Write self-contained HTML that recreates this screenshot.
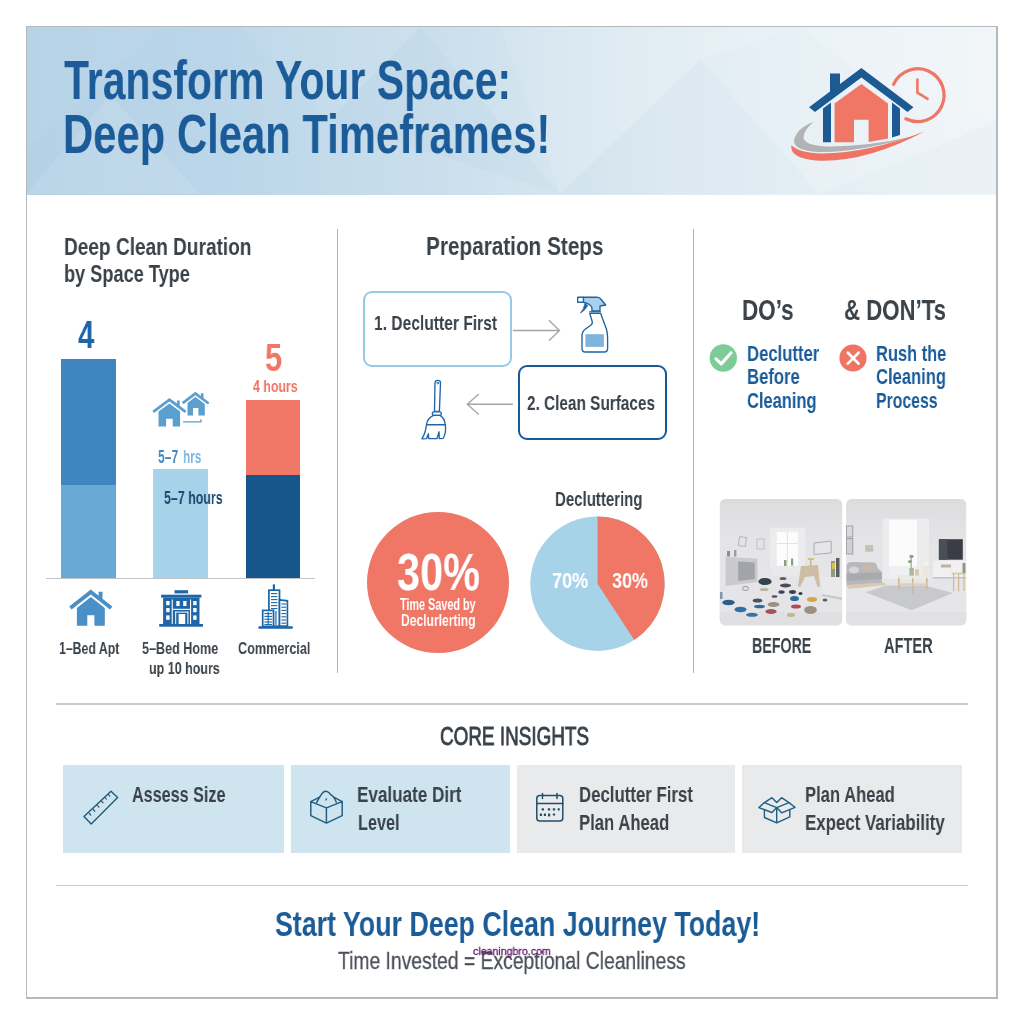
<!DOCTYPE html><html><head><meta charset="utf-8"><title>Deep Clean Timeframes</title><style>
html,body{margin:0;padding:0;background:#fff;}
body{width:1024px;height:1024px;position:relative;overflow:hidden;font-family:"Liberation Sans",sans-serif;}
.t{position:absolute;white-space:nowrap;line-height:1;transform-origin:0 0;letter-spacing:0;will-change:transform;}
.a{position:absolute;}
svg{position:absolute;left:0;top:0;overflow:visible;}
</style></head><body>
<div class="a" style="left:26px;top:26px;width:972px;height:973px;border:solid #b6b9bc;border-width:1px 2px 2px 1px;box-sizing:border-box;background:#fff"></div>
<div class="a" style="left:27px;top:27px;width:969px;height:167.5px;background:linear-gradient(90deg,#b4d1e6 0%,#bbd6e9 20%,#cce0ed 45%,#deebf2 64%,#e9f1f6 82%,#f0f5f8 100%)"></div>
<svg width="1024" height="1024" viewBox="0 0 1024 1024"><g>
<polygon points="27,27 160,27 27,150" fill="#fff" opacity="0.05"/>
<polygon points="27,194 200,194 110,95" fill="#fff" opacity="0.10"/>
<polygon points="240,27 420,27 330,120" fill="#fff" opacity="0.06"/>
<polygon points="420,27 560,194 330,120" fill="#6aa3cc" opacity="0.04"/>
<polygon points="560,194 700,60 640,27 500,27" fill="#fff" opacity="0.10"/>
<polygon points="700,60 820,194 560,194" fill="#6aa3cc" opacity="0.035"/>
<polygon points="640,27 800,27 700,60" fill="#fff" opacity="0.12"/>
<polygon points="800,27 996,27 996,120 880,90" fill="#fff" opacity="0.14"/>
<polygon points="820,194 996,194 996,120 930,150" fill="#6aa3cc" opacity="0.03"/>
</g></svg>
<span class="t" style="left:64px;top:53px;font-size:55.5px;font-weight:700;color:#1b5c98;transform:scaleX(0.7385);">Transform Your Space:</span>
<span class="t" style="left:63px;top:107px;font-size:55.5px;font-weight:700;color:#1b5c98;transform:scaleX(0.7534);">Deep Clean Timeframes!</span>
<div class="a" style="left:336.9px;top:228.8px;width:1.3px;height:443.9px;background:#b0b3b8"></div>
<div class="a" style="left:692.8px;top:228.8px;width:1.3px;height:443.9px;background:#b0b3b8"></div>
<div class="a" style="left:56px;top:703.3px;width:912px;height:1.6px;background:#c8cacd"></div>
<div class="a" style="left:56px;top:884.8px;width:912px;height:1.6px;background:#c8cacd"></div>
<svg width="1024" height="1024" viewBox="0 0 1024 1024">

<!-- pie -->
<circle cx="597.5" cy="583.7" r="67.2" fill="#a7d3e9"/>
<path d="M597.5 583.7 L597.5 516.5 A67.2 67.2 0 0 1 634.3 639.9 Z" fill="#f07666"/>
<!-- photos -->
<defs>
<clipPath id="cb"><rect x="719.8" y="499" width="122.4" height="126.3" rx="5.5"/></clipPath>
<clipPath id="ca"><rect x="846.1" y="499" width="120.1" height="126.3" rx="5.5"/></clipPath>
<linearGradient id="gw" x1="0" y1="0" x2="0" y2="1"><stop offset="0" stop-color="#dcdcde"/><stop offset="0.3" stop-color="#e4e4e6"/><stop offset="0.68" stop-color="#e6e6e8"/><stop offset="1" stop-color="#dadadc"/></linearGradient>
</defs>
<g clip-path="url(#cb)">
<rect x="719" y="498" width="125" height="129" fill="url(#gw)"/>
<polygon points="719,589 762,578 800,578 842,590 842,626 719,626" fill="#e5e5e8"/>
<polygon points="719,612 842,612 842,626 719,626" fill="#dededf" opacity="0.7"/>
<rect x="770.1" y="527.9" width="35.2" height="40.5" fill="#ececee"/>
<rect x="776.8" y="531.8" width="21.2" height="33.9" fill="#fcfcfd"/>
<line x1="787.4" y1="531.8" x2="787.4" y2="565.7" stroke="#e3e3e6" stroke-width="1"/>
<line x1="776.8" y1="543.5" x2="798" y2="543.5" stroke="#e3e3e6" stroke-width="1"/>
<rect x="772" y="566" width="30" height="10" fill="#e9e9eb"/>
<rect x="784" y="560" width="2.5" height="6" fill="#8aa07e"/><rect x="791" y="558.5" width="2.2" height="7" fill="#8aa07e"/>
<polygon points="725.6,557 757.5,558.5 757.5,582 725.6,586" fill="#c9cace"/>
<polygon points="738.2,561.5 754.8,562.5 754.8,579 738.2,581" fill="#a3a4aa"/>
<rect x="727" y="551" width="3" height="5.5" fill="#8c8e92"/><rect x="734" y="550" width="2.4" height="6.5" fill="#9a9ca0"/>
<rect x="739" y="537" width="7" height="9" fill="none" stroke="#a9abaf" stroke-width="0.8" transform="rotate(8 742 541)"/>
<rect x="757" y="539" width="7" height="10" fill="none" stroke="#b4b6ba" stroke-width="0.8"/>
<polygon points="814,543 831.2,541.1 831.2,553 814,554.4" fill="#e6e6e8" stroke="#a3a5a9" stroke-width="0.9"/>
<path d="M801 566 L818 565 L820 587 L817.5 587 L814 576 L805 577 L800 587 L798 586 Z" fill="#cdbda3"/>
<rect x="808" y="558" width="6" height="2" fill="#d6c27a"/><rect x="810" y="559" width="1.4" height="7" fill="#c9b78a"/>
<polygon points="821.9,576.3 842,579 842,597.6 821.9,594" fill="#e9e9eb"/>
<polygon points="821.9,594 842,597.6 842,600 821.9,596" fill="#c9c9cc"/>
<rect x="831" y="561" width="4" height="16" fill="#8f9a86"/><rect x="836" y="558" width="3.5" height="19" fill="#5a5f5a"/><rect x="832" y="563" width="3" height="6" fill="#d9c04e"/>
<ellipse cx="765" cy="581.5" rx="6.6" ry="3.6" fill="#36424c"/>
<ellipse cx="783" cy="578.5" rx="3.4" ry="1.5" fill="#6a5a5c"/>
<ellipse cx="785.5" cy="585.5" rx="5.6" ry="1.9" fill="#4a4a55"/>
<ellipse cx="745.5" cy="588.5" rx="3" ry="2" fill="none" stroke="#8d9499" stroke-width="1"/>
<ellipse cx="764" cy="589.5" rx="4.5" ry="1.6" fill="#b9b4a6"/>
<ellipse cx="781.5" cy="592" rx="3.2" ry="1.8" fill="#3b4560"/>
<ellipse cx="792.5" cy="592" rx="3.5" ry="1.9" fill="#3a4356"/>
<ellipse cx="800.5" cy="593.5" rx="2" ry="1.5" fill="#2f3f4f"/>
<ellipse cx="794.5" cy="598.5" rx="4.4" ry="2.6" fill="#2e6c9c"/>
<ellipse cx="774.5" cy="596.5" rx="3" ry="1.2" fill="#4a5260"/>
<ellipse cx="757.5" cy="600.5" rx="4.8" ry="2" fill="#4b5560"/>
<ellipse cx="812" cy="599.5" rx="5" ry="2.4" fill="#d0a74e"/>
<ellipse cx="825" cy="600" rx="2.4" ry="1.5" fill="#59605c"/>
<ellipse cx="773.5" cy="604.5" rx="5.8" ry="2.6" fill="#9c8f86"/>
<ellipse cx="796" cy="606.5" rx="5" ry="2" fill="#b64a52"/>
<ellipse cx="759.5" cy="606.5" rx="5.6" ry="1.8" fill="#2f6a98"/>
<ellipse cx="728.5" cy="602.5" rx="6.2" ry="2.8" fill="#2d5f88"/>
<ellipse cx="740.5" cy="609.5" rx="6" ry="2.8" fill="#2f6ea6"/>
<ellipse cx="771" cy="611.5" rx="5.6" ry="2.6" fill="#a0545a"/>
<ellipse cx="752" cy="614.8" rx="6" ry="2" fill="#3672a8"/>
<ellipse cx="810.5" cy="610" rx="6.4" ry="4" fill="#9b8f84"/>
<ellipse cx="791" cy="615" rx="4.2" ry="1.9" fill="#c2b494"/>
<rect x="720" y="592" width="2.5" height="7" fill="#7f97b0"/>
</g>
<g clip-path="url(#ca)">
<rect x="845" y="498" width="123" height="129" fill="url(#gw)"/>
<polygon points="845,590 884,579 932,578 967,584 967,626 845,626" fill="#e6e6e9"/>
<polygon points="845,612 967,612 967,626 845,626" fill="#dededf" opacity="0.7"/>
<rect x="882.5" y="518.6" width="46.5" height="60.4" fill="#ececee"/>
<rect x="889.1" y="519.9" width="27.9" height="46.5" fill="#fbfbfc"/>
<rect x="889.1" y="566.4" width="27.9" height="12" fill="#f0f0f2"/>
<rect x="846.4" y="526" width="6.4" height="11" fill="#dadadc" stroke="#8f9196" stroke-width="0.8"/>
<rect x="846.4" y="538.5" width="6.4" height="15.5" fill="#d0d0d3" stroke="#8f9196" stroke-width="0.8"/>
<rect x="865.2" y="545.1" width="8" height="6.6" fill="#c5c0b2"/>
<path d="M846.6 566 Q847 562 852 562 L874 562.5 Q877 563 877.5 568 L881.8 572 L881.8 583 L846.6 585.5 Z" fill="#b7b8bc"/>
<path d="M846.6 573.5 L881.8 572.5 L881.8 579 L846.6 581 Z" fill="#a9aaae"/>
<ellipse cx="854" cy="570" rx="5" ry="3.4" fill="#d6d6d9"/><ellipse cx="868" cy="567.5" rx="5" ry="3.6" fill="#c9b9a6"/>
<path d="M847 585 L884 582.5 L886 585 L848 589 Z" fill="#d8c9b1"/>
<polygon points="865.2,592.3 886.5,585.6 925,585.6 952.9,592.9 911.7,610.2" fill="#c8c9cc"/>
<rect x="938.9" y="539.2" width="23.9" height="20.5" fill="#3a3d45"/>
<rect x="938.9" y="539.2" width="8.5" height="20.5" fill="#4a4e57"/>
<rect x="933" y="560.8" width="33.5" height="16.6" fill="#f0f0f2"/>
<rect x="933" y="577" width="33.5" height="1.6" fill="#c6c6c9"/>
<rect x="941" y="564.5" width="10" height="3" fill="#b8b3a8"/>
<rect x="897.5" y="575.2" width="30.4" height="2.8" fill="#efe9dd"/>
<rect x="898" y="578" width="1.6" height="11.5" fill="#cdb995"/><rect x="926" y="578" width="1.6" height="11.5" fill="#cdb995"/>
<rect x="912" y="578" width="1.5" height="15.5" fill="#cdb995"/>
<rect x="898.5" y="583.4" width="28.5" height="1.5" fill="#dccdb2"/>
<rect x="909.4" y="568" width="4.4" height="7.6" fill="#aeb59d"/><rect x="915" y="569.5" width="4" height="6" fill="#d8c8a4"/>
<rect x="910.6" y="555" width="1" height="13" fill="#7ea071"/><ellipse cx="911.4" cy="556.5" rx="2.2" ry="1.7" fill="#86a878"/><ellipse cx="910" cy="561.5" rx="2" ry="1.6" fill="#86a878"/>
<ellipse cx="926" cy="564" rx="2.8" ry="2.4" fill="#f3f1ea"/><rect x="923.5" y="566" width="5" height="9" fill="#e9e6dc"/>
<rect x="951.6" y="572.6" width="14.5" height="1.8" fill="#d8c8ac"/>
<rect x="953" y="574" width="1.2" height="17" fill="#cdb995"/><rect x="958" y="574" width="1.2" height="17.5" fill="#cdb995"/><rect x="963.4" y="574" width="1.2" height="17" fill="#cdb995"/>
<rect x="962.5" y="563" width="3" height="10" fill="#8f9a7e"/>
</g>

</svg>
<span class="t" style="left:64px;top:235px;font-size:24.3px;font-weight:700;color:#3a424a;transform:scaleX(0.7845);">Deep Clean Duration</span>
<span class="t" style="left:64px;top:262px;font-size:24.3px;font-weight:700;color:#3a424a;transform:scaleX(0.7476);">by Space Type</span>
<div class="a" style="left:61px;top:359px;width:54.6px;height:126px;background:#3f86c1"></div>
<div class="a" style="left:61px;top:484.6px;width:54.6px;height:94px;background:#69a9d6"></div>
<div class="a" style="left:153.3px;top:468.8px;width:55.2px;height:110px;background:#a6d3ea"></div>
<div class="a" style="left:246px;top:399.6px;width:54.1px;height:76px;background:#f17766"></div>
<div class="a" style="left:246px;top:474.6px;width:54.1px;height:104px;background:#17568b"></div>
<div class="a" style="left:46px;top:577.8px;width:269px;height:1.5px;background:#c2c4c7"></div>
<span class="t" style="left:78px;top:316px;font-size:38.6px;font-weight:700;color:#1d64a8;transform:scaleX(0.7534);">4</span>
<span class="t" style="left:265px;top:339px;font-size:38.8px;font-weight:700;color:#f07666;transform:scaleX(0.7941);">5</span>
<span class="t" style="left:253px;top:378px;font-size:17.4px;font-weight:700;color:#f07666;transform:scaleX(0.7104);">4 hours</span>
<span class="t" style="left:158px;top:449px;font-size:17.5px;font-weight:700;color:#4088bf;transform:scaleX(0.6912);">5–7</span>
<span class="t" style="left:183px;top:449px;font-size:17.5px;font-weight:700;color:#78b9de;transform:scaleX(0.6717);">hrs</span>
<span class="t" style="left:164px;top:490px;font-size:17.7px;font-weight:700;color:#1d4a73;transform:scaleX(0.7021);">5–7 hours</span>
<span class="t" style="left:59px;top:640px;font-size:16.5px;font-weight:700;color:#3a424a;transform:scaleX(0.7443);">1–Bed Apt</span>
<span class="t" style="left:142px;top:640px;font-size:16.5px;font-weight:700;color:#3a424a;transform:scaleX(0.7628);">5–Bed Home</span>
<span class="t" style="left:149px;top:660px;font-size:16.5px;font-weight:700;color:#3a424a;transform:scaleX(0.7569);">up 10 hours</span>
<span class="t" style="left:238px;top:640px;font-size:16.5px;font-weight:700;color:#3a424a;transform:scaleX(0.7668);">Commercial</span>
<span class="t" style="left:426px;top:233px;font-size:26.5px;font-weight:700;color:#3a424a;transform:scaleX(0.7827);">Preparation Steps</span>
<div class="a" style="left:363px;top:290.5px;width:149.4px;height:76px;border:2.4px solid #93cae5;border-radius:9px;box-sizing:border-box;background:#fff"></div>
<div class="a" style="left:518px;top:365.4px;width:149.3px;height:75px;border:2.5px solid #18599a;border-radius:9px;box-sizing:border-box;background:#fff"></div>
<span class="t" style="left:374px;top:312px;font-size:21.0px;font-weight:700;color:#3a424a;transform:scaleX(0.7426);">1. Declutter First</span>
<span class="t" style="left:527px;top:392px;font-size:21.0px;font-weight:700;color:#3a424a;transform:scaleX(0.7311);">2. Clean Surfaces</span>
<div class="a" style="left:367px;top:512.1px;width:142.3px;height:141.4px;border-radius:50%;background:#f07666"></div>
<span class="t" style="left:397px;top:546px;font-size:52.5px;font-weight:700;color:#fff;transform:scaleX(0.7894);">30%</span>
<span class="t" style="left:400px;top:596px;font-size:16.4px;font-weight:700;color:#fff;transform:scaleX(0.6607);">Time Saved by</span>
<span class="t" style="left:401px;top:612px;font-size:16.4px;font-weight:700;color:#fff;transform:scaleX(0.7378);">Declurlerting</span>
<span class="t" style="left:555px;top:490px;font-size:19.6px;font-weight:700;color:#3a424a;transform:scaleX(0.7656);">Decluttering</span>
<span class="t" style="left:552px;top:570px;font-size:22.3px;font-weight:700;color:#fff;transform:scaleX(0.8095);">70%</span>
<span class="t" style="left:612px;top:570px;font-size:22.3px;font-weight:700;color:#fff;transform:scaleX(0.8050);">30%</span>
<span class="t" style="left:742px;top:295px;font-size:30.1px;font-weight:700;color:#3a424a;transform:scaleX(0.7447);">DO’s</span>
<span class="t" style="left:844px;top:295px;font-size:30.1px;font-weight:700;color:#3a424a;transform:scaleX(0.7379);">&amp; DON’Ts</span>
<span class="t" style="left:747px;top:344px;font-size:21.3px;font-weight:700;color:#1b5c98;transform:scaleX(0.7829);">Declutter</span>
<span class="t" style="left:747px;top:367px;font-size:21.3px;font-weight:700;color:#1b5c98;transform:scaleX(0.7831);">Before</span>
<span class="t" style="left:747px;top:391px;font-size:21.3px;font-weight:700;color:#1b5c98;transform:scaleX(0.7722);">Cleaning</span>
<span class="t" style="left:876px;top:344px;font-size:21.3px;font-weight:700;color:#1b5c98;transform:scaleX(0.7716);">Rush the</span>
<span class="t" style="left:876px;top:367px;font-size:21.3px;font-weight:700;color:#1b5c98;transform:scaleX(0.7778);">Cleaning</span>
<span class="t" style="left:876px;top:391px;font-size:21.3px;font-weight:700;color:#1b5c98;transform:scaleX(0.7433);">Process</span>
<span class="t" style="left:752px;top:636px;font-size:21.4px;font-weight:700;color:#3a424a;transform:scaleX(0.6655);">BEFORE</span>
<span class="t" style="left:884px;top:636px;font-size:21.4px;font-weight:700;color:#3a424a;transform:scaleX(0.6833);">AFTER</span>
<span class="t" style="left:440px;top:723px;font-size:26.7px;font-weight:400;color:#3a424a;transform:scaleX(0.7074);-webkit-text-stroke:0.9px #3a424a;">CORE INSIGHTS</span>
<div class="a" style="left:63.4px;top:764.7px;width:220.7px;height:87.9px;background:#cee4ef"></div>
<div class="a" style="left:291px;top:764.7px;width:218.7px;height:87.9px;background:#cee4ef"></div>
<div class="a" style="left:517px;top:764.7px;width:218.4px;height:87.9px;background:#e9eaeb"></div>
<div class="a" style="left:742.2px;top:764.7px;width:220.2px;height:87.9px;background:#e9eaeb"></div>
<span class="t" style="left:132px;top:784px;font-size:22.5px;font-weight:700;color:#3a424a;transform:scaleX(0.7188);">Assess Size</span>
<span class="t" style="left:357px;top:784px;font-size:22.5px;font-weight:700;color:#3a424a;transform:scaleX(0.7599);">Evaluate Dirt</span>
<span class="t" style="left:358px;top:812px;font-size:22.5px;font-weight:700;color:#3a424a;transform:scaleX(0.7230);">Level</span>
<span class="t" style="left:579px;top:784px;font-size:22.5px;font-weight:700;color:#3a424a;transform:scaleX(0.7468);">Declutter First</span>
<span class="t" style="left:579px;top:812px;font-size:22.5px;font-weight:700;color:#3a424a;transform:scaleX(0.7410);">Plan Ahead</span>
<span class="t" style="left:805px;top:784px;font-size:22.5px;font-weight:700;color:#3a424a;transform:scaleX(0.7376);">Plan Ahead</span>
<span class="t" style="left:805px;top:812px;font-size:22.5px;font-weight:700;color:#3a424a;transform:scaleX(0.7501);">Expect Variability</span>
<span class="t" style="left:275px;top:907px;font-size:35.4px;font-weight:700;color:#1b5c98;transform:scaleX(0.7568);">Start Your Deep Clean Journey Today!</span>
<span class="t" style="left:338px;top:949px;font-size:24.2px;font-weight:400;color:#4b5159;transform:scaleX(0.7984);-webkit-text-stroke:0.3px #4b5159;">Time Invested = Exceptional Cleanliness</span>
<span class="t" style="left:473px;top:946px;font-size:11.0px;font-weight:400;color:#5e1a68;transform:scaleX(0.9644);-webkit-text-stroke:0.3px #5e1a68;">cleaningbro.com</span>
<svg width="1024" height="1024" viewBox="0 0 1024 1024">

<!-- logo -->
<g>
<path d="M813.5 122 Q797 128 794 140 Q793 149 812 151.5 Q848 155 915 136 Q866 147 826 146.5 Q803 145 803.5 137 Q804 130 813.5 122 Z" fill="#b1b3b6"/>
<path d="M791.5 145 Q789 158 816 160.5 Q865 163 924.5 131.5 Q868 153 822 153.5 Q799 153 791.5 145 Z" fill="#ef7464"/>
<path d="M893.6 84.3 A26.4 26.4 0 1 1 905.8 118.8" fill="none" stroke="#ef7565" stroke-width="3.2" stroke-linecap="round"/>
<path d="M917.4 79.5 L917.4 92.7 L927.6 98.9" fill="none" stroke="#ef7565" stroke-width="2.6" stroke-linecap="round" stroke-linejoin="round"/>
<path d="M861.4 68 L840 84 L840 73.6 L830 73.6 L830 91.5 L809 107.2 L815 112 L861.4 77.5 L907.5 112 L913.5 107.2 Z" fill="#1c5a94"/>
<path d="M823 108.5 L831 102.5 L831 142.3 L823 142.3 Z" fill="#1c5a94"/>
<path d="M892 102.5 L900 108.5 L900 135 L892 137.5 Z" fill="#1c5a94"/>
<path d="M861.4 84 L888 103.5 L888 138.5 L868.6 142 L868.6 119.7 L854 119.7 L854 142.3 L834.6 142.3 L834.6 103.5 Z" fill="#f07666"/>
</g>

<!-- bar icons: double house -->
<g fill="#5a9fcf">
<path d="M169.4 397.9 L176.9 403.6 L176.9 400.4 L179.7 400.4 L179.7 405.7 L186.4 410.8 L184.7 413.1 L169.4 401.6 L154.1 413.1 L152.4 410.8 Z"/>
<path d="M169.4 403.4 L180.1 411.5 L180.1 426.5 L172.7 426.5 L172.7 418.8 L166.1 418.8 L166.1 426.5 L158.5 426.5 L158.5 411.5 Z"/>
<path d="M195.4 391.8 L200.9 396 L200.9 393.3 L203.5 393.3 L203.5 398 L209.5 402.5 L207.9 404.6 L195.4 395.3 L183.5 404.2 L181.9 402.1 Z"/>
<path d="M195.4 397 L204.8 404 L204.8 415.6 L198.4 415.6 L198.4 408 L193 408 L193 415.6 L187.5 415.6 L187.5 403 Z"/>
<path d="M183.1 421.2 L200.3 421.2 L200.3 419.2 L201.6 419.2 L201.6 422.6 L183.1 422.6 Z"/>
</g>
<!-- 1-bed house -->
<g fill="#4a8fc6">
<path d="M90.8 589.6 L98.6 595.7 L98.6 591.7 L102.5 591.7 L102.5 598.8 L112.4 606.5 L110 609.6 L90.8 594.6 L71.6 609.6 L69.2 606.5 Z"/>
<path d="M90.8 597 L104.8 608 L104.8 625.8 L94.4 625.8 L94.4 615.2 L87.3 615.2 L87.3 625.8 L76.9 625.8 L76.9 608 Z"/>
</g>
<!-- 5-bed building -->
<g>
<rect x="174.5" y="590.2" width="13.6" height="3.2" fill="#1f66a8"/>
<rect x="161.1" y="594.7" width="40.3" height="2.9" fill="#1f66a8"/>
<rect x="163.1" y="597.5" width="36.4" height="26.5" fill="#1f66a8"/>
<rect x="159.2" y="624" width="43.8" height="2.7" fill="#1f66a8"/>
<g fill="#fff">
<rect x="166.2" y="601" width="3.4" height="4.2"/><rect x="166.2" y="608" width="3.4" height="4.2"/><rect x="166.2" y="615.4" width="3.4" height="4.4"/>
<rect x="193.2" y="601" width="3.4" height="4.2"/><rect x="193.2" y="608" width="3.4" height="4.2"/><rect x="193.2" y="615.4" width="3.4" height="4.4"/>
<rect x="171.7" y="599.5" width="1.1" height="24.5"/><rect x="190" y="599.5" width="1.1" height="24.5"/>
<rect x="176.3" y="601" width="3.3" height="5"/><rect x="183.2" y="601" width="3.3" height="5"/>
<rect x="172.8" y="608.8" width="17.2" height="1.1"/>
<rect x="178.6" y="614" width="6.6" height="10"/>
<rect x="175.2" y="611.6" width="1" height="12.4"/><rect x="187.4" y="611.6" width="1" height="12.4"/><rect x="175.2" y="611.6" width="13.2" height="1"/>
</g>
</g>
<!-- commercial -->
<g fill="none" stroke="#1a65a8" stroke-width="1.7">
<line x1="273.9" y1="584.4" x2="273.9" y2="590" stroke-width="2.2"/>
<rect x="268.9" y="590.2" width="10.6" height="36" fill="#fff"/>
<path d="M279.5 599.8 L287.4 600.8 L287.4 626 L279.5 626 Z" fill="#fff"/>
<rect x="262.7" y="610.4" width="10.8" height="16" fill="#fff"/>
<g stroke-width="1.1">
<line x1="271" y1="593.6" x2="277.4" y2="593.6"/><line x1="271" y1="596.6" x2="277.4" y2="596.6"/><line x1="271" y1="599.6" x2="277.4" y2="599.6"/><line x1="271" y1="602.6" x2="277.4" y2="602.6"/><line x1="271" y1="605.6" x2="277.4" y2="605.6"/><line x1="271" y1="608.6" x2="277.4" y2="608.6"/>
<line x1="275.8" y1="611" x2="275.8" y2="625" stroke="#5a9fd4" stroke-width="2"/>
<line x1="281.4" y1="604" x2="286" y2="604"/><line x1="281.4" y1="607.2" x2="286" y2="607.2"/><line x1="281.4" y1="610.4" x2="286" y2="610.4"/><line x1="281.4" y1="613.6" x2="286" y2="613.6"/><line x1="281.4" y1="616.8" x2="286" y2="616.8"/><line x1="281.4" y1="620" x2="286" y2="620"/><line x1="281.4" y1="623.2" x2="286" y2="623.2"/>
<line x1="264.4" y1="613.6" x2="272" y2="613.6"/><line x1="264.4" y1="616.4" x2="272" y2="616.4"/><line x1="264.4" y1="619.2" x2="272" y2="619.2"/><line x1="264.4" y1="622" x2="272" y2="622"/><line x1="264.4" y1="624.6" x2="272" y2="624.6"/>
<line x1="268.2" y1="612" x2="268.2" y2="625"/>
</g>
<line x1="259.6" y1="627.5" x2="291.6" y2="627.5" stroke-width="2.7" stroke-linecap="round"/>
</g>

<!-- arrows -->
<g fill="none" stroke="#a3a5a8" stroke-width="1.4" stroke-linecap="round" stroke-linejoin="round">
<path d="M513.5 330.5 L559.5 330.5 M549.4 320.8 L559.5 330.5 L549.4 340.3"/>
<path d="M512.5 404.3 L467.2 404.3 M478.3 394.5 L467.2 404.3 L478.3 414.1"/>
</g>

<!-- spray bottle -->
<g stroke="#1d64a0" stroke-width="1.35" stroke-linejoin="round" stroke-linecap="round">
<path d="M589.7 313.3 L600.6 313.3 L606.4 329 Q607.6 333 607.6 338 L607.6 348.5 Q607.6 352 604.2 352 L585.4 352 Q582 352 582 348.5 L582 336 Q582 331.5 585.5 329 L590.5 325.5 Q592.8 324 592.2 321.5 Z" fill="#fff"/>
<rect x="585.4" y="334.2" width="18.5" height="12.7" fill="#7db3dc" stroke="none"/>
<path d="M583.4 297.2 L597 297.2 Q599.5 297.5 601 299.3 L605.7 305 L600 306 L600 311 L591.9 311 L591.9 307.5 Q590 303.8 583.4 302.2 Z" fill="#a9d0ec"/>
<rect x="577.7" y="297.2" width="5.7" height="5" fill="#fff"/>
<path d="M585 303.4 Q584 309 580.6 313 Q585 310.5 587.6 305.8 Z" fill="#1d64a0" stroke-width="0.8"/>
<path d="M589.7 311.8 L600.4 311.8" fill="none"/>
</g>

<!-- broom -->
<g fill="#fff" stroke="#1f66a8" stroke-width="1.35" stroke-linejoin="round" stroke-linecap="round">
<path d="M435 383 Q435 380.3 437.8 380.3 Q440.6 380.3 440.5 383 L439.4 411.5 L434.5 411.5 Z"/>
<circle cx="437.8" cy="383" r="0.9" fill="none" stroke-width="0.9"/>
<rect x="432.3" y="411.8" width="9" height="3.6" rx="1.6"/>
<path d="M433.5 415.4 Q427.5 418 426.5 424.7 L445.2 424.7 Q444.7 418 440 415.4 Z"/>
<path d="M426.5 424.7 Q425.5 433.5 421.9 438.8 L426.6 438.6 L428.4 433.8 L428.6 438.5 L437 438.6 L439 431.8 L439.3 438.6 L443.3 438.3 Q446.6 432 445.2 424.7 Z"/>
</g>

<!-- check / cross -->
<circle cx="723.3" cy="358" r="13.7" fill="#7ecb9a"/>
<path d="M716 358.8 L721.2 363.9 L731.1 352.8" fill="none" stroke="#fff" stroke-width="3.1" stroke-linecap="round" stroke-linejoin="round"/>
<circle cx="853" cy="358" r="13.6" fill="#ef7464"/>
<path d="M847.8 352.7 L858.6 363.6 M858.6 352.7 L847.8 363.6" fill="none" stroke="#fff" stroke-width="2.7" stroke-linecap="round"/>

<!-- card icons -->
<g fill="none" stroke="#205a7c" stroke-width="1.4" stroke-linejoin="round" stroke-linecap="round">
<path d="M111 791.2 L117.6 797.4 L91.2 824 L84 816.6 Z"/>
<path d="M89.4 813.3 L90.7 815.2 M93.1 809.2 L94.8 811.4 M97.3 805.3 L98.9 807.2 M101.6 801.2 L103 802.9 M105.3 797.6 L106.4 799 M108.5 794.7 L109.8 796.2" stroke-width="1.2"/>
</g>
<g fill="none" stroke="#215d80" stroke-width="1.45" stroke-linejoin="round" stroke-linecap="round">
<path d="M310.8 801.6 L326.4 807.9 L342.2 801.6 L342.2 815.7 L326.4 823.1 L310.8 815.7 Z M326.4 807.9 L326.4 823.1"/>
<path d="M310.8 801.6 L319.5 797.2 M342.2 801.6 L334.2 797.4"/>
<path d="M316.6 802.6 Q320 796 322.3 793.2 Q325.6 789.6 329 792.8 Q330.8 795 332.2 795.6 Q334.5 797.5 336.3 802.2"/>
<path d="M325.8 800 L326.5 798.7" stroke-width="1.3"/>
</g>
<g fill="none" stroke="#1f4f68" stroke-width="1.5" stroke-linejoin="round" stroke-linecap="round">
<rect x="536.8" y="795.6" width="26" height="25.4" rx="3"/>
<path d="M536.8 803.6 L562.8 803.6 M542.5 793.4 L542.5 798.4 M557 793.4 L557 798.4"/>
<g stroke="none" fill="#1f4f68">
<rect x="541.6" y="808.2" width="2.4" height="2.2" rx="0.6"/><rect x="547.8" y="808.2" width="2.4" height="2.2" rx="0.6"/><rect x="552.8" y="808.2" width="2.4" height="2.2" rx="0.6"/><rect x="557.6" y="808.2" width="2.2" height="2.2" rx="0.6"/>
<rect x="539.8" y="813.4" width="2.2" height="2.6" rx="0.6"/><rect x="543.8" y="813.4" width="2.2" height="2.6" rx="0.6"/><rect x="548" y="813.4" width="2.2" height="3" rx="0.6"/><rect x="552.8" y="813.4" width="2.4" height="2.2" rx="0.6"/>
</g>
</g>
<g fill="none" stroke="#1f5f85" stroke-width="1.4" stroke-linejoin="round" stroke-linecap="round">
<path d="M764.4 802.6 L772 797.7 L776.7 802.6 L781.6 797.7 L789 802.6"/>
<path d="M764.4 802.6 L758.9 807.6 L772 812.5 L776.7 807.6 Z"/>
<path d="M789 802.6 L795 807.3 L781.6 812.8 L776.7 807.6 Z"/>
<path d="M764.4 809.7 L764.4 817.5 L776.7 822.8 L789.8 816.9 L789.8 809.6 M776.7 807.6 L776.7 822.8"/>
</g>

</svg>
</body></html>
